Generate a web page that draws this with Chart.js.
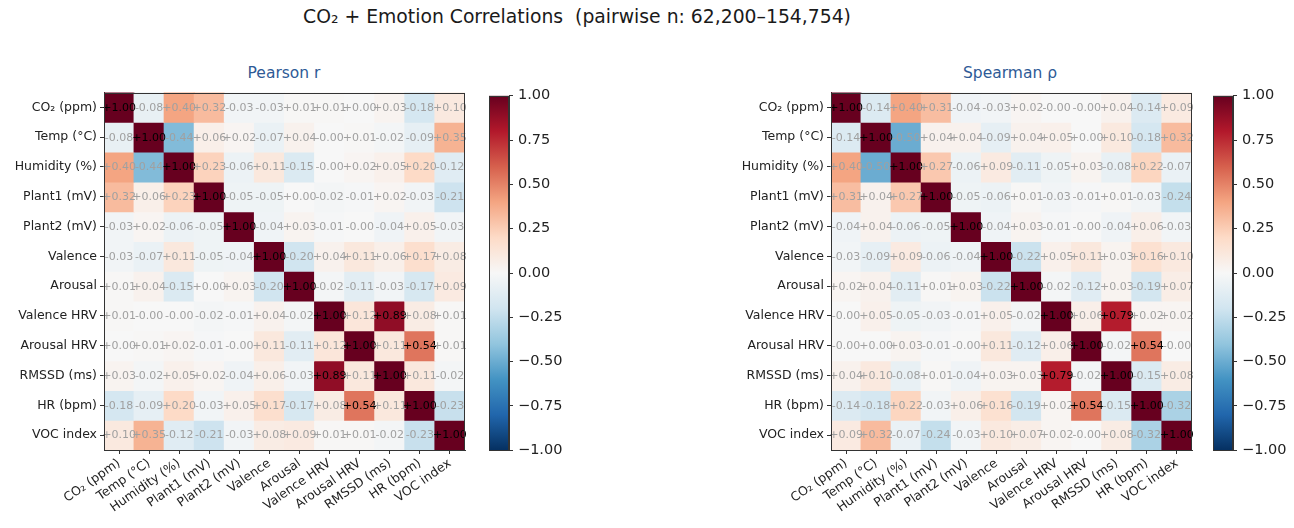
<!DOCTYPE html>
<html>
<head>
<meta charset="utf-8">
<script src="https://cdn.jsdelivr.net/npm/chart.js@4.4.1/dist/chart.umd.min.js"></script>
<style>
  html, body { margin: 0; padding: 0; background: #fff; }
  body { width: 1294px; height: 528px; position: relative; overflow: hidden; font-family: "DejaVu Sans", sans-serif; }
  canvas { position: absolute; }
  .title { position: absolute; white-space: pre; transform: translateX(-50%); color: #1a1a1a; }
</style>
</head>
<body>
<div class="title" id="suptitle" style="left:577px; top:6px; font-size:18.8px;">CO₂ + Emotion Correlations  (pairwise n: 62,200–154,754)</div>
<div class="title" style="left:284px; top:64px; font-size:15.5px; color:#2e5a96;">Pearson r</div>
<div class="title" style="left:1010px; top:64px; font-size:15.5px; color:#2e5a96;">Spearman ρ</div>
<canvas id="pearson" width="473" height="446" style="left:0px; top:82px;"></canvas>
<canvas id="pearsonBar" width="82" height="382" style="left:489px; top:82px;"></canvas>
<canvas id="spearman" width="473" height="446" style="left:727px; top:82px;"></canvas>
<canvas id="spearmanBar" width="82" height="382" style="left:1213px; top:82px;"></canvas>
<script>
// ---------- data ----------
const variables = ["CO₂ (ppm)", "Temp (°C)", "Humidity (%)", "Plant1 (mV)", "Plant2 (mV)", "Valence",
                   "Arousal", "Valence HRV", "Arousal HRV", "RMSSD (ms)", "HR (bpm)", "VOC index"];

const pearsonCO2      = [ 1.00, -0.08,  0.40,  0.32, -0.03, -0.03,  0.01,  0.01,  0.00,  0.03, -0.18,  0.10];
const pearsonTemp     = [-0.08,  1.00, -0.44,  0.06,  0.02, -0.07,  0.04, -0.001, 0.01, -0.02, -0.09,  0.35];
const pearsonHumidity = [ 0.40, -0.44,  1.00,  0.23, -0.06,  0.11, -0.15, -0.001, 0.02,  0.05,  0.20, -0.12];
const pearsonPlant1   = [ 0.32,  0.06,  0.23,  1.00, -0.05, -0.05,  0.00, -0.02, -0.01,  0.02, -0.03, -0.21];
const pearsonPlant2   = [-0.03,  0.02, -0.06, -0.05,  1.00, -0.04,  0.03, -0.01, -0.001, -0.04, 0.05, -0.03];
const pearsonValence  = [-0.03, -0.07,  0.11, -0.05, -0.04,  1.00, -0.20,  0.04,  0.11,  0.06,  0.17,  0.08];
const pearsonArousal  = [ 0.01,  0.04, -0.15,  0.00,  0.03, -0.20,  1.00, -0.02, -0.11, -0.03, -0.17,  0.09];
const pearsonValHRV   = [ 0.01, -0.001, -0.001, -0.02, -0.01, 0.04, -0.02,  1.00,  0.12,  0.89,  0.08,  0.01];
const pearsonAroHRV   = [ 0.00,  0.01,  0.02, -0.01, -0.001, 0.11, -0.11,  0.12,  1.00,  0.11,  0.54,  0.01];
const pearsonRMSSD    = [ 0.03, -0.02,  0.05,  0.02, -0.04,  0.06, -0.03,  0.89,  0.11,  1.00,  0.11, -0.02];
const pearsonHR       = [-0.18, -0.09,  0.20, -0.03,  0.05,  0.17, -0.17,  0.08,  0.54,  0.11,  1.00, -0.23];
const pearsonVOC      = [ 0.10,  0.35, -0.12, -0.21, -0.03,  0.08,  0.09,  0.01,  0.01, -0.02, -0.23,  1.00];

const spearmanCO2      = [ 1.00, -0.14,  0.40,  0.31, -0.04, -0.03,  0.02, -0.001, -0.001, 0.04, -0.14,  0.09];
const spearmanTemp     = [-0.14,  1.00, -0.50,  0.04,  0.04, -0.09,  0.04,  0.05,  0.00,  0.10, -0.18,  0.32];
const spearmanHumidity = [ 0.40, -0.50,  1.00,  0.27, -0.06,  0.09, -0.11, -0.05,  0.03, -0.08,  0.22, -0.07];
const spearmanPlant1   = [ 0.31,  0.04,  0.27,  1.00, -0.05, -0.06,  0.01, -0.03, -0.01,  0.01, -0.03, -0.24];
const spearmanPlant2   = [-0.04,  0.04, -0.06, -0.05,  1.00, -0.04,  0.03, -0.01, -0.001, -0.04, 0.06, -0.03];
const spearmanValence  = [-0.03, -0.09,  0.09, -0.06, -0.04,  1.00, -0.22,  0.05,  0.11,  0.03,  0.16,  0.10];
const spearmanArousal  = [ 0.02,  0.04, -0.11,  0.01,  0.03, -0.22,  1.00, -0.02, -0.12,  0.03, -0.19,  0.07];
const spearmanValHRV   = [-0.001, 0.05, -0.05, -0.03, -0.01,  0.05, -0.02,  1.00,  0.06,  0.79,  0.02,  0.02];
const spearmanAroHRV   = [-0.001, 0.00,  0.03, -0.01, -0.001, 0.11, -0.12,  0.06,  1.00, -0.02,  0.54, -0.001];
const spearmanRMSSD    = [ 0.04,  0.10, -0.08,  0.01, -0.04,  0.03,  0.03,  0.79, -0.02,  1.00, -0.15,  0.08];
const spearmanHR       = [-0.14, -0.18,  0.22, -0.03,  0.06,  0.16, -0.19,  0.02,  0.54, -0.15,  1.00, -0.32];
const spearmanVOC      = [ 0.09,  0.32, -0.07, -0.24, -0.03,  0.10,  0.07,  0.02, -0.001, 0.08, -0.32,  1.00];

const pearsonRows  = [pearsonCO2, pearsonTemp, pearsonHumidity, pearsonPlant1, pearsonPlant2, pearsonValence,
                      pearsonArousal, pearsonValHRV, pearsonAroHRV, pearsonRMSSD, pearsonHR, pearsonVOC];
const spearmanRows = [spearmanCO2, spearmanTemp, spearmanHumidity, spearmanPlant1, spearmanPlant2, spearmanValence,
                      spearmanArousal, spearmanValHRV, spearmanAroHRV, spearmanRMSSD, spearmanHR, spearmanVOC];

const colorbarTicks = [-1.00, -0.75, -0.50, -0.25, 0.00, 0.25, 0.50, 0.75, 1.00];

// ---------- colormap (RdBu_r) ----------
const RDBU_R = ["#053061", "#2166ac", "#4393c3", "#92c5de", "#d1e5f0", "#f7f7f7",
                "#fddbc7", "#f4a582", "#d6604d", "#b2182b", "#67001f"];
function hex2rgb(h) { return [parseInt(h.slice(1,3),16), parseInt(h.slice(3,5),16), parseInt(h.slice(5,7),16)]; }
const RDBU_RGB = RDBU_R.map(hex2rgb);
function cmap(v) {
  let t = (Math.max(-1, Math.min(1, v)) + 1) / 2 * (RDBU_RGB.length - 1);
  let i = Math.min(Math.floor(t), RDBU_RGB.length - 2);
  let f = t - i;
  const a = RDBU_RGB[i], b = RDBU_RGB[i + 1];
  const c = a.map((x, k) => Math.round(x + (b[k] - x) * f));
  return `rgb(${c[0]},${c[1]},${c[2]})`;
}

Chart.defaults.font.family = '"DejaVu Sans", sans-serif';
Chart.defaults.color = '#222';
Chart.defaults.animation = false;

const frame = {
  id: 'frame',
  afterDraw(chart) {
    const a = chart.chartArea, ctx = chart.ctx;
    ctx.save();
    ctx.strokeStyle = '#333';
    ctx.lineWidth = 1;
    ctx.strokeRect(Math.round(a.left) + 0.5, Math.round(a.top) + 0.5,
                   Math.round(a.right - a.left) - 1, Math.round(a.bottom - a.top) - 1);
    ctx.restore();
  }
};

const cellText = {
  id: 'cellText',
  afterDatasetsDraw(chart) {
    const ctx = chart.ctx;
    ctx.save();
    ctx.font = '11px "DejaVu Sans", sans-serif';
    ctx.textAlign = 'center';
    ctx.textBaseline = 'middle';
    chart.data.datasets.forEach((ds, r) => {
      const meta = chart.getDatasetMeta(r);
      meta.data.forEach((el, c) => {
        const v = ds.values[c];
        const txt = (v < 0 ? '-' : '+') + Math.abs(v).toFixed(2);
        ctx.fillStyle = Math.abs(v) >= 0.52 ? '#000' : '#a0a0a0';
        ctx.fillText(txt, el.x, (el.y + el.base) / 2 + 0.5);
      });
    });
    ctx.restore();
  }
};

function heatmap(id, rows) {
  const datasets = rows.map((row, r) => ({
    label: variables[r],
    values: row,
    data: row.map(() => 1),
    backgroundColor: row.map(v => cmap(v)),
    borderWidth: 0,
    barPercentage: 1,
    categoryPercentage: 1,
    inflateAmount: 0.5
  }));
  return new Chart(document.getElementById(id), {
    type: 'bar',
    data: { labels: variables, datasets },
    options: {
      responsive: false,
      devicePixelRatio: 1,
      layout: { padding: { top: 10, right: 8, bottom: 0, left: 0 } },
      plugins: { legend: { display: false }, tooltip: { enabled: false } },
      scales: {
        x: {
          stacked: true,
          offset: true,
          grid: { offset: false, drawOnChartArea: false, drawTicks: true, tickLength: 4, color: '#333' },
          border: { display: true, color: '#333' },
          ticks: { maxRotation: 35, minRotation: 35, autoSkip: false, padding: 2, font: { size: 12.5 }, color: '#222' },
          afterFit(s) { s.height = 78; }
        },
        y: {
          stacked: true,
          reverse: true,
          min: 0, max: variables.length,
          grid: { drawOnChartArea: false, drawTicks: true, tickLength: 4, color: '#333' },
          border: { display: true, color: '#333' },
          afterBuildTicks(s) { s.ticks = variables.map((_, i) => ({ value: i + 0.5 })); },
          ticks: {
            autoSkip: false, padding: 3, font: { size: 12.5 }, color: '#222',
            callback(v) { return variables[Math.floor(v)]; }
          },
          afterFit(s) { s.width = 104; }
        }
      }
    },
    plugins: [cellText, frame]
  });
}

function colorbar(id) {
  return new Chart(document.getElementById(id), {
    type: 'bar',
    data: {
      labels: [''],
      datasets: [{
        data: [[colorbarTicks[0], colorbarTicks[colorbarTicks.length - 1]]],
        barPercentage: 1, categoryPercentage: 1, borderWidth: 0,
        backgroundColor(ctx) {
          const a = ctx.chart.chartArea;
          if (!a) return '#f7f7f7';
          const g = ctx.chart.ctx.createLinearGradient(0, a.bottom, 0, a.top);
          RDBU_R.forEach((c, i) => g.addColorStop(i / (RDBU_R.length - 1), c));
          return g;
        }
      }]
    },
    options: {
      responsive: false,
      devicePixelRatio: 1,
      layout: { padding: { top: 10, bottom: 10, left: 0, right: 0 } },
      plugins: { legend: { display: false }, tooltip: { enabled: false } },
      scales: {
        x: { display: false },
        y: {
          position: 'right',
          min: -1, max: 1,
          afterBuildTicks(s) { s.ticks = colorbarTicks.map(v => ({ value: v })); },
          grid: { drawOnChartArea: false, drawTicks: true, tickLength: 4, color: '#333' },
          border: { display: true, color: '#333' },
          ticks: {
            padding: 5, font: { size: 14.5 }, color: '#222',
            callback(v) { return (v < 0 ? '\u2212' : '') + Math.abs(v).toFixed(2); }
          },
          afterFit(s) { s.width = 62; }
        }
      }
    },
    plugins: [frame]
  });
}

heatmap('pearson', pearsonRows);
heatmap('spearman', spearmanRows);
colorbar('pearsonBar');
colorbar('spearmanBar');
</script>
</body>
</html>
